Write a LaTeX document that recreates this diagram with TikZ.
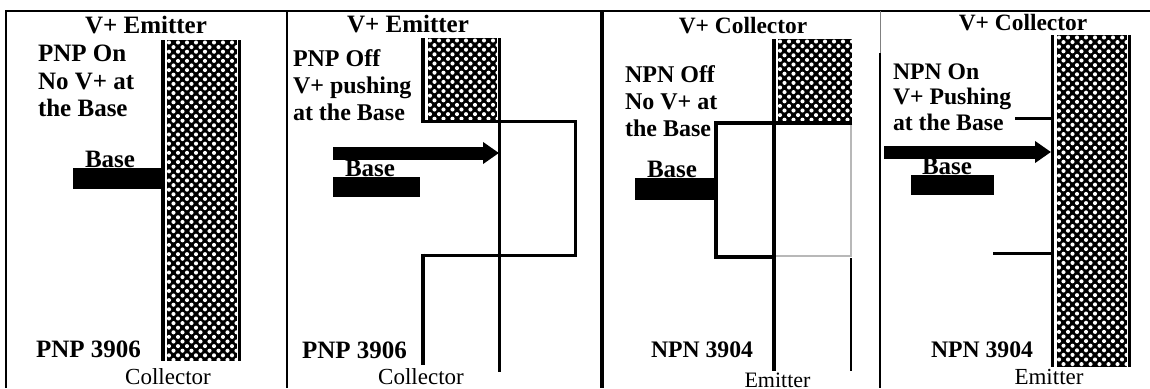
\documentclass[tikz,border=0pt]{standalone}
\usepackage{fontspec}
\setmainfont{Liberation Serif}
\usetikzlibrary{arrows.meta}
\tikzset{
  x=1pt,y=-1pt,
  lab/.style={inner sep=0pt,outer sep=0pt,font=\bfseries\fontsize{25}{27.5}\selectfont,align=left,anchor=west},
  labsmall/.style={lab,font=\bfseries\fontsize{24}{27}\selectfont},
  ttl/.style={inner sep=0pt,outer sep=0pt,font=\bfseries\fontsize{25}{27}\selectfont},
  ttlsmall/.style={ttl,font=\bfseries\fontsize{23.4}{27}\selectfont},
  tag/.style={ttl,anchor=west,font=\bfseries\fontsize{23.7}{27}\selectfont},
  term/.style={inner sep=0pt,outer sep=0pt,font=\fontsize{23}{25}\selectfont},
  baserect/.style={fill=black,inner sep=0pt,outer sep=0pt,anchor=north west},
  hatchbox/.style={fill=black,inner sep=0pt,outer sep=0pt,anchor=north west,
    path picture={
      \fill[white] (path picture bounding box.north west)
        foreach \r in {0,...,#1}{ foreach \c in {0,...,8}{
          ++({2+9*\c+4.5*mod(\r,2)},{2.5+4.6*\r}) circle[radius=2.05]
          ++({-2-9*\c-4.5*mod(\r,2)},{-2.5-4.6*\r}) } };
    }},
  wire/.style={line width=3pt,line cap=butt,line join=miter},
  thick wire/.style={line width=4pt,line join=miter},
  thin wire/.style={line width=2.4pt},
  pale/.style={line width=2.4pt,draw=black!28},
  frame/.style={line width=1.5pt},
  fat arrow/.style={line width=13pt,-{Triangle[length=16pt,width=21pt]}},
}
\begin{document}
\begin{tikzpicture}
\useasboundingbox (0,0) rectangle (1150,388);
\fill[white] (0,0) rectangle (1150,388);
% frame
\coordinate (tl) at (6,11); \coordinate (tr) at (1150,11);
\coordinate (bl) at (6,388);
\coordinate (f1t) at (287,11); \coordinate (f1b) at (287,388);
\coordinate (f2t) at (602,11); \coordinate (f2b) at (602,388);
\coordinate (f3t) at (880,53); \coordinate (f3b) at (880,388);
\coordinate (f3u) at (880,11);
\draw[frame] (bl) -- (tl) -- (tr);
\draw[frame] (f1t) -- (f1b);
\draw[line width=4pt] (f2t) -- (f2b);
\draw[line width=1pt,draw=black!50] (f3u) -- (f3t);
\draw[frame] (f3t) -- (f3b);

% Panel 1
\node[ttl] (t1) at (146,25) {V+ Emitter};
\node[lab] (l1) at (38,81) {PNP On\\No V+ at\\the Base};
\node[hatchbox=69,minimum width=70pt,minimum height=321pt] (h1) at (167,40) {};
\coordinate (b1t) at (163,40); \coordinate (b1b) at (163,361);
\coordinate (s1t) at (239.5,40); \coordinate (s1b) at (239.5,361);
\draw[thick wire] (b1t) -- (b1b);
\draw[wire] (s1t) -- (s1b);
\node[baserect,minimum width=88pt,minimum height=21pt] (r1) at (73,168) {};
\node[ttl] (bt1) at (110,159.5) {Base};
\node[ttl,anchor=west] (n1) at (36,349) {PNP 3906};
\node[term] (c1) at (168,377) {Collector};

% Panel 2
\node[ttl] (t2) at (408,24) {V+ Emitter};
\node[labsmall] (l2) at (293,85) {PNP Off\\V+ pushing\\at the Base};
\node[hatchbox=17,minimum width=69pt,minimum height=83pt] (h2) at (428,38) {};
\coordinate (b2t) at (423,38); \coordinate (b2b) at (423,121);
\draw[thick wire] (b2t) -- (b2b);
\coordinate (w2a) at (421,121); \coordinate (w2b) at (575,121);
\coordinate (w2c) at (575,255); \coordinate (w2d) at (423,255);
\coordinate (w2e) at (423,365);
\draw[wire] (w2a) -- (w2b) -- (w2c) -- (w2d);
\draw[thick wire] ([yshift=1.5pt]w2d) -- (w2e);
\coordinate (v2t) at (499,38); \coordinate (v2b) at (499,372);
\draw[wire] (v2t) -- (v2b);
\coordinate (a2s) at (333,153); \coordinate (a2e) at (499,153);
\draw[fat arrow] (a2s) -- (a2e);
\node[baserect,minimum width=87pt,minimum height=20pt] (r2) at (333,177) {};
\node[ttl] (bt2) at (370,168) {Base};
\node[ttl,anchor=west] (n2) at (302,350) {PNP 3906};
\node[term] (c2) at (421,377) {Collector};

% Panel 3
\node[ttlsmall] (t3) at (743,26) {V+ Collector};
\node[labsmall] (l3) at (625,101) {NPN Off\\No V+ at\\the Base};
\node[hatchbox=17,minimum width=74pt,minimum height=84pt] (h3) at (778,39) {};
\coordinate (b3t) at (773.5,39); \coordinate (b3b) at (773.5,371);
\draw[thick wire] (b3t) -- (b3b);
\coordinate (w3a) at (852,123); \coordinate (w3b) at (716,123);
\coordinate (w3c) at (716,257); \coordinate (w3d) at (773,257);
\coordinate (g3a) at (851,123); \coordinate (g3b) at (851,256); \coordinate (g3c) at (776,256);
\coordinate (k3a) at (851,258); \coordinate (k3b) at (851,371);
\draw[pale] (g3a) -- (g3b) -- (g3c);
\draw[thin wire] (k3a) -- (k3b);
\draw[line width=3.5pt,line join=miter] (w3a) -- (w3b) -- (w3c) -- (w3d);
\node[baserect,minimum width=81pt,minimum height=22pt] (r3) at (635,178) {};
\node[ttl] (bt3) at (672,169) {Base};
\node[tag] (n3) at (651,350) {NPN 3904};
\node[term,font=\fontsize{22}{24}\selectfont] (c3) at (777.5,380) {Emitter};

% Panel 4
\node[ttlsmall] (t4) at (1023,23) {V+ Collector};
\node[lab,font=\bfseries\fontsize{23.7}{25.5}\selectfont] (l4) at (893,97) {NPN On\\V+ Pushing\\at the Base};
\node[hatchbox=71,minimum width=70pt,minimum height=332pt] (h4) at (1057,35) {};
\coordinate (b4t) at (1052.5,35); \coordinate (b4b) at (1052.5,367);
\coordinate (s4t) at (1129,35); \coordinate (s4b) at (1129,367);
\draw[wire] (b4t) -- (b4b);
\draw[wire] (s4t) -- (s4b);
\coordinate (u4) at (1015,118); \coordinate (u4e) at (1052,118);
\coordinate (d4) at (993,253); \coordinate (d4e) at (1052,253);
\draw[wire] (u4) -- (u4e);
\draw[wire] (d4) -- (d4e);
\coordinate (a4s) at (884,152); \coordinate (a4e) at (1051,152);
\draw[fat arrow] (a4s) -- (a4e);
\node[baserect,minimum width=83pt,minimum height=20pt] (r4) at (911,175) {};
\node[ttl] (bt4) at (947,166) {Base};
\node[tag] (n4) at (931,350) {NPN 3904};
\node[term] (c4) at (1049,377) {Emitter};
\end{tikzpicture}
\end{document}
